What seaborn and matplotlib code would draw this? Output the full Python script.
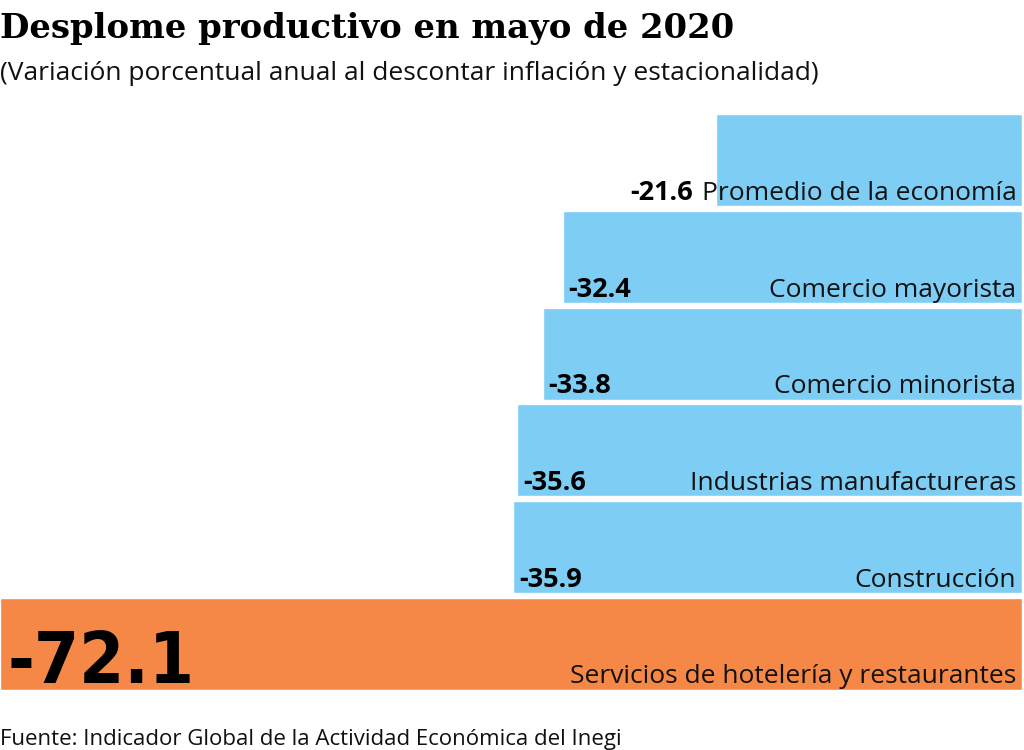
import matplotlib
matplotlib.use("Agg")
import matplotlib.pyplot as plt
import seaborn as sns
import pandas as pd

# Data
sectores = [
    "Promedio de la economía",
    "Comercio mayorista",
    "Comercio minorista",
    "Industrias manufactureras",
    "Construcción",
    "Servicios de hotelería y restaurantes",
]
variacion = [-21.6, -32.4, -33.8, -35.6, -35.9, -72.1]
colores = ["#7dcdf4"] * 5 + ["#f58846"]

df = pd.DataFrame({"sector": sectores, "variacion": variacion})

sns.set_style("white")
plt.rcParams["font.family"] = ["Open Sans", "DejaVu Sans"]

fig = plt.figure(figsize=(10.24, 7.5), dpi=100)
ax = fig.add_axes([0, 1 - 692 / 750, 1022 / 1024, (692 - 112) / 750])

sns.barplot(
    data=df, x="variacion", y="sector", hue="sector", palette=colores,
    orient="h", width=0.955, legend=False, ax=ax, saturation=1,
)
ax.set_xlim(-72.1, 0)
ax.set_ylim(5.5, -0.5)
ax.axis("off")

for i, (name, val) in enumerate(zip(sectores, variacion)):
    # category label, right aligned near the bar end
    ax.text(-0.4, i + 0.41, name, ha="right", va="baseline",
            fontsize=19, color="#111111")
    if i == len(sectores) - 1:
        ax.text(val + 0.5, i + 0.41, f"{val:.1f}", ha="left", va="baseline",
                fontsize=52, fontweight="bold", color="black",
                fontstretch="condensed",
                family=["DejaVu Sans Condensed", "DejaVu Sans"])
    elif i == 0:
        ax.text(val - 1.6, i + 0.41, f"{val:.1f}", ha="right", va="baseline",
                fontsize=19.5, fontweight="bold", color="black")
    else:
        ax.text(val + 0.4, i + 0.41, f"{val:.1f}", ha="left", va="baseline",
                fontsize=19.5, fontweight="bold", color="black")

fig.text(0.0, 1 - 38 / 750, "Desplome productivo en mayo de 2020",
         ha="left", va="baseline", fontsize=24.4, fontweight="bold",
         family=["DejaVu Serif"], color="black")
fig.text(0.0, 1 - 80 / 750,
         "(Variación porcentual anual al descontar inflación y estacionalidad)",
         ha="left", va="baseline", fontsize=19, color="#111111")
fig.text(0.0, 1 - 745 / 750,
         "Fuente: Indicador Global de la Actividad Económica del Inegi",
         ha="left", va="baseline", fontsize=16, color="#111111")

fig.savefig("out.png", dpi=100)
